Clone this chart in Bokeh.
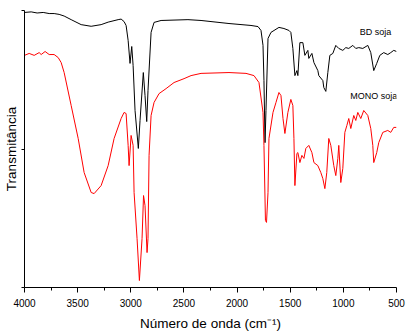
from bokeh.plotting import figure
from bokeh.models import Range1d, FixedTicker, Label
from bokeh.embed import file_html
from bokeh.resources import INLINE

# ---- data ----
bd_wn = [4000, 3937, 3881, 3824, 3768, 3721, 3674, 3627, 3561, 3467, 3373, 3279, 3213, 3119, 3091, 3063,
         3044, 3025, 3007, 2991, 2978, 2960, 2929, 2913, 2882, 2866, 2850, 2838, 2809, 2781, 2715, 2462,
         2339, 2076, 1869, 1803, 1775, 1756, 1747, 1737, 1728, 1709, 1681, 1606, 1559, 1512, 1494, 1475,
         1456, 1437, 1428, 1409, 1381, 1362, 1334, 1325, 1296, 1277, 1240, 1231, 1193, 1184, 1165, 1146,
         1127, 1099, 1071, 1043, 1005, 977, 949, 911, 883, 855, 817, 770, 742, 714, 686, 657, 620, 582,
         554, 526, 500]
bd_t = [99.3, 99.5, 99.1, 99.3, 98.9, 98.9, 98.6, 98.0, 96.7, 94.9, 94.3, 94.9, 95.8, 96.7, 96.9, 96.0,
        94.6, 89.2, 80.9, 87.0, 80.1, 63.9, 50.2, 60.3, 77.6, 69.3, 59.9, 71.1, 92.1, 95.7, 96.4, 96.7,
        96.4, 95.3, 94.6, 94.2, 92.8, 87.4, 74.7, 52.3, 63.9, 89.9, 92.1, 93.9, 93.5, 92.8, 92.1, 86.3,
        76.5, 78.3, 76.5, 88.4, 88.4, 83.8, 85.6, 82.7, 84.5, 81.2, 78.3, 76.5, 74.7, 72.2, 70.8, 77.6,
        83.8, 84.5, 87.4, 86.3, 85.6, 86.6, 86.3, 87.4, 86.3, 86.6, 86.3, 87.4, 84.8, 78.3, 80.9, 83.8,
        84.8, 84.1, 84.8, 85.6, 85.2]

mono_wn = [4000, 3956, 3909, 3862, 3843, 3806, 3768, 3721, 3683, 3655, 3627, 3561, 3495, 3439, 3373, 3345,
           3279, 3213, 3157, 3091, 3063, 3044, 3025, 3016, 2997, 2978, 2969, 2941, 2919, 2894, 2880, 2866,
           2847, 2838, 2828, 2809, 2781, 2734, 2668, 2593, 2499, 2433, 2339, 2076, 1916, 1841, 1794, 1756,
           1747, 1733, 1723, 1709, 1700, 1662, 1634, 1606, 1587, 1568, 1550, 1522, 1494, 1475, 1465, 1456,
           1437, 1428, 1409, 1390, 1371, 1353, 1325, 1296, 1277, 1240, 1212, 1193, 1174, 1156, 1137, 1118,
           1090, 1071, 1052, 1043, 1024, 1005, 986, 967, 949, 930, 902, 883, 864, 836, 808, 770, 742, 723,
           714, 686, 667, 629, 582, 554, 526, 500]
mono_t = [83.8, 84.5, 83.8, 84.8, 84.1, 85.2, 84.1, 84.1, 83.0, 81.2, 77.6, 65.7, 53.8, 41.5, 34.3, 33.9,
          36.8, 44.0, 53.8, 61.0, 63.2, 62.8, 51.3, 44.0, 54.9, 51.3, 34.3, 17.7, 2.5, 17.7, 33.2, 29.6,
          12.6, 17.7, 47.7, 62.1, 66.8, 70.0, 71.8, 74.0, 75.4, 76.5, 77.3, 77.6, 77.3, 76.5, 74.0, 63.2,
          51.3, 24.2, 23.5, 34.3, 53.8, 63.2, 66.8, 70.4, 69.3, 61.0, 55.6, 63.2, 67.9, 65.7, 53.8, 36.8,
          48.4, 48.7, 45.1, 47.7, 46.6, 50.2, 51.3, 48.7, 45.1, 44.0, 41.5, 39.3, 35.7, 41.5, 53.8, 51.3,
          44.0, 40.4, 46.6, 51.3, 37.9, 43.0, 56.0, 58.5, 61.0, 57.4, 62.1, 60.3, 63.2, 61.0, 63.9, 62.1,
          57.4, 51.3, 45.1, 48.7, 52.3, 56.0, 56.7, 56.0, 57.8, 57.8]

x_ticks = [4000, 3500, 3000, 2500, 2000, 1500, 1000, 500]
x_minor = [3750, 3250, 2750, 2250, 1750, 1250, 750]
y_ticks = [0, 50, 100]

series_names = ["BD soja", "MONO soja"]
label_pos = [(845, 92.4), (935, 69.0)]

FONT = "Liberation Sans"

p = figure(width=408, height=334, output_backend="svg", toolbar_location=None,
           x_range=Range1d(4000, 500), y_range=Range1d(0, 100),
           min_border_left=23, min_border_right=12, min_border_top=10, min_border_bottom=47)
p.background_fill_color = "white"
p.border_fill_color = "white"
p.outline_line_color = None
p.grid.visible = False

p.line(bd_wn, bd_t, line_color="black", line_width=1)
p.line(mono_wn, mono_t, line_color="#ff0000", line_width=1)

# x axis
xa = p.xaxis[0]
xa.ticker = FixedTicker(ticks=x_ticks, minor_ticks=x_minor)
xa.axis_line_color = "black"
xa.major_tick_line_color = "black"
xa.minor_tick_line_color = "black"
xa.major_tick_in = 0
xa.major_tick_out = 5
xa.minor_tick_in = 0
xa.minor_tick_out = 3
xa.major_label_text_font = FONT
xa.major_label_text_font_size = "10px"
xa.major_label_text_color = "black"
xa.major_label_standoff = 6
xa.axis_label = "Número de onda (cm⁻¹)"
xa.axis_label_text_font = FONT
xa.axis_label_text_font_size = "13.5px"
xa.axis_label_text_font_style = "normal"
xa.axis_label_text_color = "black"
xa.axis_label_standoff = 6

# y axis: ticks only, no tick labels (drawn as minor ticks so no tick texts exist)
ya = p.yaxis[0]
ya.ticker = FixedTicker(ticks=[], minor_ticks=y_ticks)
ya.axis_line_color = "black"
ya.major_tick_line_color = None
ya.minor_tick_line_color = "black"
ya.minor_tick_in = 0
ya.minor_tick_out = 3
ya.major_label_standoff = 0
ya.axis_label = "Transmitância"
ya.axis_label_text_font = FONT
ya.axis_label_text_font_size = "13.5px"
ya.axis_label_text_font_style = "normal"
ya.axis_label_text_color = "black"
ya.axis_label_standoff = 3

for name, (lx, ly) in zip(series_names, label_pos):
    p.add_layout(Label(x=lx, y=ly, text=name, text_align="left", text_baseline="middle",
                       text_font=FONT, text_font_size="9px", text_color="black"))

open("out.html", "w").write(file_html(p, INLINE))
